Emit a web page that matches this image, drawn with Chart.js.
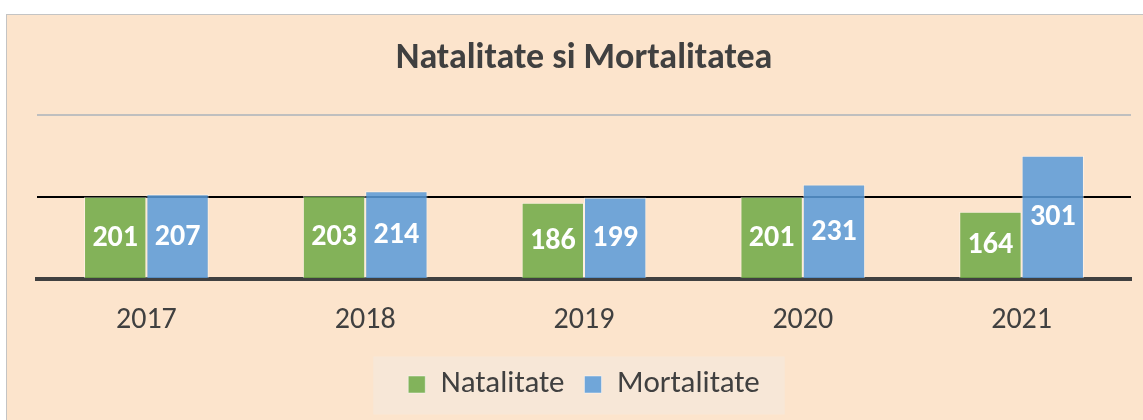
<!DOCTYPE html>
<html lang="ro">
<head>
<meta charset="utf-8">
<title>Natalitate si Mortalitatea</title>
<script src="https://cdn.jsdelivr.net/npm/chart.js@4"></script>
<style>
  html, body { margin: 0; padding: 0; background: #fff; overflow: hidden; }
  #cadru {
    position: absolute; left: 6px; top: 14px;
    width: 1137px; height: 406px;
    background: #fce4cc;
    border-left: 1px solid #c4c4c4; border-top: 1px solid #c4c4c4;
  }
  #grafic { display: block; }
</style>
</head>
<body>
<div id="cadru"><canvas id="grafic" width="1137" height="406"></canvas></div>
<script>
// Date
const ani = ['2017', '2018', '2019', '2020', '2021'];
const natalitate = [201, 203, 186, 201, 164];
const mortalitate = [207, 214, 199, 231, 301];
const valoriAxaY = [0, 200, 400];

const FONT = 'Carlito, Calibri, Lato, sans-serif';
const textGri = '#404040';

// Etichete cu valori in mijlocul barelor
const eticheteValori = {
    id: 'eticheteValori',
    afterDatasetsDraw(chart) {
        const ctx = chart.ctx;
        ctx.save();
        ctx.font = 'bold 30px ' + FONT;
        ctx.fillStyle = '#ffffff';
        ctx.textAlign = 'center';
        ctx.textBaseline = 'middle';
        chart.data.datasets.forEach((ds, i) => {
            chart.getDatasetMeta(i).data.forEach((bara, j) => {
                ctx.fillText(String(ds.data[j]), bara.x, (bara.y + bara.base) / 2 + 1);
            });
        });
        ctx.restore();
    }
};

// Fundal deschis in spatele legendei
const fundalLegenda = {
    id: 'fundalLegenda',
    beforeDraw(chart) {
        const leg = chart.legend;
        if (!leg || !leg.legendHitBoxes || !leg.legendHitBoxes.length) return;
        const boxes = leg.legendHitBoxes;
        const st = Math.min(...boxes.map(b => b.left)) - 35;
        const dr = Math.max(...boxes.map(b => b.left + b.width)) + 25;
        const mijloc = boxes[0].top + boxes[0].height / 2;
        const ctx = chart.ctx;
        ctx.save();
        ctx.fillStyle = '#f7e7d7';
        ctx.fillRect(st, mijloc - 28, dr - st, 58);
        ctx.restore();
    }
};

new Chart(document.getElementById('grafic'), {
    type: 'bar',
    data: {
        labels: ani,
        datasets: [{
            label: 'Natalitate',
            data: natalitate,
            backgroundColor: 'rgba(111, 170, 70, 0.86)',
            borderColor: 'rgba(255, 255, 255, 0.45)',
            borderWidth: 1,
            categoryPercentage: 0.57,
            barPercentage: 1
        }, {
            label: 'Mortalitate',
            data: mortalitate,
            backgroundColor: 'rgba(90, 155, 216, 0.86)',
            borderColor: 'rgba(255, 255, 255, 0.45)',
            borderWidth: 1,
            categoryPercentage: 0.57,
            barPercentage: 1
        }]
    },
    options: {
        responsive: false,
        animation: false,
        layout: { padding: { left: 30, right: 13, top: 18, bottom: 11 } },
        plugins: {
            title: {
                display: true,
                text: 'Natalitate si Mortalitatea',
                color: textGri,
                font: { family: FONT, size: 36, weight: 'bold' },
                padding: { top: 4, bottom: 35 }
            },
            legend: {
                position: 'bottom',
                labels: {
                    color: textGri,
                    font: { family: FONT, size: 31 },
                    boxWidth: 17,
                    boxHeight: 17,
                    padding: 20
                }
            },
            tooltip: { enabled: false }
        },
        scales: {
            x: {
                grid: { display: false, drawTicks: false },
                border: { display: true, color: '#404040', width: 4 },
                ticks: { color: textGri, font: { family: FONT, size: 30 }, padding: 23 },
                afterFit(ax) { ax.height = 70; }
            },
            y: {
                min: valoriAxaY[0],
                max: valoriAxaY[valoriAxaY.length - 1],
                afterBuildTicks(ax) { ax.ticks = valoriAxaY.map(v => ({ value: v })); },
                ticks: { display: false },
                border: { display: false },
                grid: {
                    drawTicks: false,
                    lineWidth: 2,
                    color: c => c.tick.value === 400 ? '#bfbfbf' : (c.tick.value === 200 ? '#000000' : 'rgba(0,0,0,0)')
                }
            }
        }
    },
    plugins: [eticheteValori, fundalLegenda]
});
</script>
</body>
</html>
